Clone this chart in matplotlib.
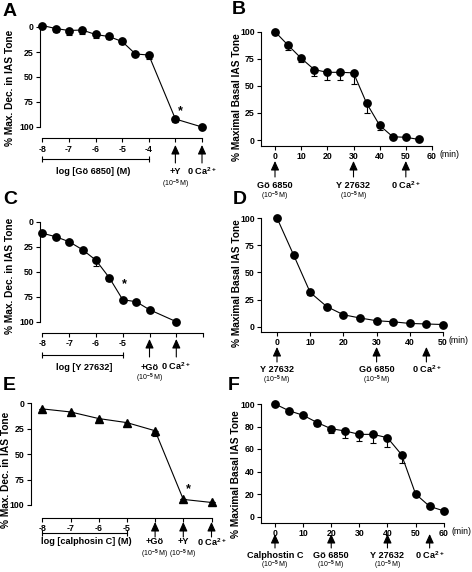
import numpy as np
import matplotlib
matplotlib.use("Agg")
import matplotlib.pyplot as plt
from matplotlib.transforms import blended_transform_factory

plt.rcParams['font.family'] = ['Liberation Sans', 'DejaVu Sans']
plt.rcParams['font.weight'] = 'bold'
plt.rcParams['mathtext.fontset'] = 'custom'
plt.rcParams['mathtext.rm'] = 'Liberation Sans'
plt.rcParams['mathtext.bf'] = 'Liberation Sans:bold'

# ---- data ----
# A: Go 6850 concentration-response, then +Y 27632, then 0 Ca
a_x = [-8, -7.5, -7, -6.5, -6, -5.5, -5, -4.5, -4, -3, -2]
a_y = [-1.5, 1.5, 3.5, 3, 7.5, 9.5, 14.5, 27, 28, 92, 100]
a_err = [0, 3.5, 4.5, 3.5, 4, 3, 3, 2.5, 4.5, 3, 0]

# B: time course, Go 6850 -> Y 27632 -> 0 Ca
b_t = [0, 5, 10, 15, 20, 25, 30, 35, 40, 45, 50, 55]
b_y = [100, 87.5, 75.5, 65, 62.5, 62.5, 62, 34, 13.5, 3, 2.5, 0.5]
b_err = [0, 4.5, 3.5, 6, 7, 7, 10, 9, 4.5, 0, 0, 0]

# C: Y 27632 concentration-response, then +Go, then 0 Ca
c_x = [-8, -7.5, -7, -6.5, -6, -5.5, -5, -4.5, -4, -3]
c_y = [11.5, 15, 20, 28, 38.5, 56, 78, 80, 88, 100]
c_err = [0, 0, 0, 3, 6, 3, 0, 0, 2, 0]

# D: time course, Y 27632 -> Go 6850 -> 0 Ca
d_t = [0, 5, 10, 15, 20, 25, 30, 35, 40, 45, 50]
d_y = [100, 66, 31.5, 18.5, 11, 8, 5.5, 4.5, 3, 2.5, 2]
d_err = [0, 1.5, 2, 2, 0, 0, 0, 0, 0, 0, 0]

# E: calphostin C concentration-response, then +Go, +Y, 0 Ca
e_x = [-8, -7, -6, -5, -4, -3, -2]
e_y = [5.5, 8.5, 15, 19, 27, 94.5, 97.5]
e_err = [0, 1, 1.5, 3, 5, 0, 0]

# F: time course, calphostin C -> Go 6850 -> Y 27632 -> 0 Ca
f_t = [0, 5, 10, 15, 20, 25, 30, 35, 40, 45, 50, 55, 60]
f_y = [100, 94, 90, 83.5, 78, 76, 73, 73, 70, 55, 20, 9, 5]
f_err = [0, 1.5, 1, 3, 4, 6, 6, 7.5, 8, 7, 2, 0, 0]

W, H = 472, 572
fig = plt.figure(figsize=(W / 100, H / 100), dpi=100)

FS = 6.6      # annotation text
SMALL = 5.0   # (10-5 M)


def pix_map(p0, v0, p1, v1):
    s = (v1 - v0) / (p1 - p0)
    return lambda p: v0 + (p - p0) * s


def panel(box, xmap, ymap):
    x0, x1, y0, y1 = box
    ax = fig.add_axes([x0 / W, 1 - y1 / H, (x1 - x0) / W, (y1 - y0) / H])
    fx = pix_map(*xmap)
    fy = pix_map(*ymap)
    ax.set_xlim(fx(x0), fx(x1))
    ax.set_ylim(fy(y1), fy(y0))
    for s in ['top', 'right']:
        ax.spines[s].set_visible(False)
    for s in ['left', 'bottom']:
        ax.spines[s].set_linewidth(0.8)
    ax.tick_params(direction='out', length=3, width=0.8, labelsize=6.3, pad=1.5)
    ax.patch.set_visible(False)
    return ax


def arrow(ax, x, ytop, ybot):
    tr = blended_transform_factory(ax.transData, fig.transFigure)
    ax.annotate('', xy=(x, 1 - ytop / H), xycoords=tr, xytext=(x, 1 - ybot / H), textcoords=tr,
                arrowprops=dict(arrowstyle='-|>,head_length=0.55,head_width=0.25', color='k', lw=0.8,
                                shrinkA=0, shrinkB=0), annotation_clip=False)


def txt(ax, x, ypx, s, size=FS, weight='bold', ha='center'):
    tr = blended_transform_factory(ax.transData, fig.transFigure)
    ax.text(x, 1 - ypx / H, s, transform=tr, ha=ha, va='center', fontsize=size, fontweight=weight)


def bracket(ax, xa, xb, ypx):
    tr = blended_transform_factory(ax.transData, fig.transFigure)
    ax.plot([xa, xb], [1 - ypx / H] * 2, transform=tr, color='k', lw=0.8, clip_on=False)
    ax.plot([xa, xb], [1 - ypx / H] * 2, transform=tr, ls='none', marker='|', ms=5, mew=0.8,
            color='k', clip_on=False)


def curve(ax, x, y, err, marker, ms, up_err):
    x = np.array(x)
    y = np.array(y)
    err = np.array(err)
    z = np.zeros_like(err)
    yerr = [z, err] if up_err else [err, z]
    ax.errorbar(x, y, yerr=yerr, fmt='none', ecolor='k', elinewidth=0.8, capsize=2, capthick=0.8,
                clip_on=False)
    ax.plot(x, y, color='k', lw=0.8, marker=marker, ms=ms, clip_on=False)


small = r'(10$^{-5}$ M)'
ca = r'0 Ca$^{\mathbf{2+}}$'

# ---------- A ----------
ax = panel((40, 206, 20, 138.5), (42.3, -8, 202, -2), (27, 0, 127, 100))
curve(ax, a_x, a_y, a_err, 'o', 5.3, True)
ax.spines['left'].set_bounds(0, 100)
ax.spines['bottom'].set_bounds(-8, -2)
ax.set_yticks([0, 25, 50, 75, 100])
ax.set_xticks([-8, -7, -6, -5, -4, -3, -2])
ax.set_xticklabels(['-8', '-7', '-6', '-5', '-4', '', ''])
ax.text(-2.82, 84, '*', ha='center', va='center', fontsize=9)
bracket(ax, -8, -4, 159)
txt(ax, -6.1, 172, 'log [Gö 6850] (M)')
arrow(ax, -3, 145, 163)
arrow(ax, -2, 145, 163)
txt(ax, -3, 172, '+Y')
txt(ax, -2, 171, ca)
txt(ax, -3, 184, small, size=SMALL, weight='normal')

# ---------- B ----------
ax = panel((261, 433, 29, 145.7), (275, 0, 432, 60), (140, 0, 31.7, 100))
curve(ax, b_t, b_y, b_err, 'o', 5.3, False)
ax.spines['left'].set_bounds(ax.get_ylim()[0], 100)
ax.spines['bottom'].set_bounds(ax.get_xlim()[0], 60)
ax.set_yticks([0, 25, 50, 75, 100])
ax.set_xticks([0, 10, 20, 30, 40, 50, 60])
txt(ax, 62.8, 154.5, '(min)', ha='left', size=6.3, weight='normal')
for t, s in zip([0, 30, 50], ['Gö 6850', 'Y 27632', ca]):
    arrow(ax, t, 161, 177)
    txt(ax, t, 185, s)
for t in [0, 30]:
    txt(ax, t, 196, small, size=SMALL, weight='normal')

# ---------- C ----------
ax = panel((40, 206, 214, 332.7), (42.3, -8, 203.1, -2), (221.7, 0, 321.7, 100))
curve(ax, c_x, c_y, c_err, 'o', 5.3, True)
ax.spines['left'].set_bounds(0, 100)
ax.spines['bottom'].set_bounds(-8, -2)
ax.set_yticks([0, 25, 50, 75, 100])
ax.set_xticks([-8, -7, -6, -5, -4, -3, -2])
ax.set_xticklabels(['-8', '-7', '-6', '-5', '', '', ''])
ax.text(-4.93, 62, '*', ha='center', va='center', fontsize=9)
bracket(ax, -8, -5, 355)
txt(ax, -6.45, 367, 'log [Y 27632]')
arrow(ax, -4, 339, 357)
arrow(ax, -3, 339, 357)
txt(ax, -4, 367, '+Gö')
txt(ax, -3, 366, ca)
txt(ax, -4, 378, small, size=SMALL, weight='normal')

# ---------- D ----------
ax = panel((261, 444, 215, 331.7), (277, 0, 443, 50), (326.7, 0, 218, 100))
curve(ax, d_t, d_y, d_err, 'o', 5.3, False)
ax.spines['left'].set_bounds(ax.get_ylim()[0], 100)
ax.spines['bottom'].set_bounds(ax.get_xlim()[0], 50)
ax.set_yticks([0, 25, 50, 75, 100])
ax.set_xticks([0, 10, 20, 30, 40, 50])
txt(ax, 51.8, 340.5, '(min)', ha='left', size=6.3, weight='normal')
for t, s in zip([0, 30, 45], ['Y 27632', 'Gö 6850', ca]):
    arrow(ax, t, 347, 362)
    txt(ax, t, 369, s)
for t in [0, 30]:
    txt(ax, t, 380, small, size=SMALL, weight='normal')

# ---------- E ----------
ax = panel((30.7, 214, 396, 518), (42.3, -8, 211.5, -2), (403.3, 0, 505, 100))
curve(ax, e_x, e_y, e_err, '^', 5.8, True)
ax.spines['left'].set_bounds(0, 100)
ax.spines['bottom'].set_bounds(-8, -2)
ax.set_yticks([0, 25, 50, 75, 100])
ax.set_xticks([-8, -7, -6, -5, -4, -3, -2])
ax.set_xticklabels(['-8', '-7', '-6', '-5', '', '', ''])
ax.text(-2.82, 84, '*', ha='center', va='center', fontsize=9)
bracket(ax, -8, -5, 533)
txt(ax, -8.05, 542, 'log [calphosin C] (M)', ha='left')
for xv, s in zip([-4, -3, -2], ['+Gö', '+Y', ca]):
    arrow(ax, xv, 522, 537)
    txt(ax, xv, 542, s)
for xv in [-4, -3]:
    txt(ax, xv, 554, small, size=SMALL, weight='normal')

# ---------- F ----------
ax = panel((261, 445, 401, 523), (275, 0, 443.7, 60), (516.5, 0, 404, 100))
curve(ax, f_t, f_y, f_err, 'o', 5.3, False)
ax.spines['left'].set_bounds(ax.get_ylim()[0], 100)
ax.spines['bottom'].set_bounds(ax.get_xlim()[0], 60)
ax.set_yticks([0, 20, 40, 60, 80, 100])
ax.set_xticks([0, 10, 20, 30, 40, 50, 60])
txt(ax, 62.8, 531, '(min)', ha='left', size=6.3, weight='normal')
for t, s in zip([0, 20, 40, 55], ['Calphostin C', 'Gö 6850', 'Y 27632', ca]):
    arrow(ax, t, 534, 548)
    txt(ax, t, 555, s)
for t in [0, 20, 40]:
    txt(ax, t, 565, small, size=SMALL, weight='normal')

# ---------- axis titles and panel letters ----------
lab_l = '% Max. Dec. in IAS Tone'
lab_r = '% Maximal Basal IAS Tone'
for xp, yp, s in [(10, 88, lab_l), (10, 276, lab_l), (6, 470, lab_l),
                  (237, 97, lab_r), (236.5, 283, lab_r), (236, 474, lab_r)]:
    fig.text(xp / W, 1 - yp / H, s, rotation=90, ha='center', va='center', fontsize=7.3,
             fontweight='bold')

for xp, yp, s in [(3, 11, 'A'), (232, 10, 'B'), (3, 199, 'C'), (233, 199, 'D'),
                  (3, 385, 'E'), (228, 385, 'F')]:
    fig.text(xp / W, 1 - yp / H, s, ha='left', va='center', fontsize=14, fontweight='bold')

fig.savefig('out.png', dpi=100)
